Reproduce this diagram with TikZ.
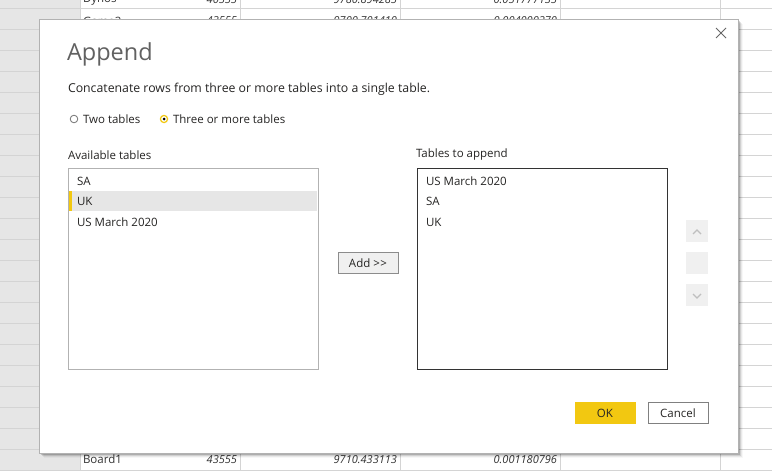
\documentclass[tikz,border=0pt]{standalone}
\usepackage{fontspec}
\setmainfont{Open Sans}
\usetikzlibrary{positioning}
\definecolor{gridline}{HTML}{D4D4D4}
\definecolor{sidegray}{HTML}{E6E6E6}
\definecolor{pbiyellow}{HTML}{F2C811}
\definecolor{btngray}{HTML}{F0F0F0}
\definecolor{txt}{HTML}{252423}
\begin{document}
\begin{tikzpicture}[x=1pt, y=-1pt,
    every node/.style={inner sep=0pt, outer sep=0pt, text=txt, font=\fontsize{11.5}{13}\selectfont},
    lbl/.style={anchor=west},
    cell/.style={anchor=east, font=\fontsize{11}{13}\selectfont\itshape, text=black!80},
    listbox/.style={draw=#1, fill=white, minimum width=250pt, minimum height=201pt, anchor=north west},
    btn/.style={draw=black!45, minimum width=60pt, minimum height=21pt},
    updown/.style={fill=btngray, minimum width=22pt, minimum height=22pt, anchor=north west},
    chev/.style={draw=black!25, line width=1.2pt}]
    %%%%% START %%%%%

    \useasboundingbox (0,0) rectangle (772,471);

    % sheet behind the dialog
    \begin{scope}
        \clip (0,0) rectangle (772,471);
        \fill[white] (0,0) rectangle (772,471);
        \fill[sidegray] (0,0) rectangle (80,471);
        \foreach \y in {8,29,...,470}
            \draw[gridline] (0,\y) -- (772,\y);
        \foreach \x in {80,240,...,720}
            \draw[gridline] (\x,0) -- (\x,471);

        \node[lbl, text=black!80] (r1a) at (83,0) {Dynos};
        \node[cell] (r1b) at (237,0) {40555};
        \node[cell] (r1c) at (397,0) {9780.894285};
        \node[cell] (r1d) at (557,0) {0.051777135};
        \node[lbl, text=black!80] (r2a) at (83,21) {Game2};
        \node[cell] (r2b) at (237,21) {43555};
        \node[cell] (r2c) at (397,21) {9700.701410};
        \node[cell] (r2d) at (557,21) {0.004000270};
        \node[lbl, text=black!80] (r3a) at (83,459.5) {Board1};
        \node[cell] (r3b) at (237,459.5) {43555};
        \node[cell] (r3c) at (397,459.5) {9710.433113};
        \node[cell] (r3d) at (557,459.5) {0.001180796};
    \end{scope}

    % dialog and its shadow
    \foreach \i/\o in {1/0.22,2/0.16,3/0.10,4/0.06,5/0.03}
        \fill[black, opacity=\o] (39+\i,19+\i) rectangle (738+\i,453+\i);
    \node[draw=black!30, fill=white, minimum width=699pt, minimum height=434pt, anchor=north west] (dialog) at (39,19) {};

    \node (close) at (721,33) {};
    \draw[black!60, line width=0.9pt] (716,28) -- (726,38) (716,38) -- (726,28);

    \node[lbl, font=\fontsize{23.5}{27}\selectfont, text=black!62] (title) at (67,54.5) {Append};
    \node[lbl, font=\fontsize{12.3}{14}\selectfont] (intro) at (68,89) {Concatenate rows from three or more tables into a single table.};

    % radio buttons
    \draw[black!55, line width=0.8pt] (74,119) circle (3.8);
    \node[lbl] (two) at (83,119.5) {Two tables};
    \draw[pbiyellow, line width=1.2pt] (164,119) circle (3.6);
    \fill[black] (164,119) circle (1.5);
    \node[lbl] (three) at (173,119.5) {Three or more tables};

    % available tables
    \node[lbl] (availlbl) at (68,155) {Available tables};
    \node[listbox=black!30] (avail) at (68,168) {};
    \fill[sidegray] (69,191) rectangle (317,211);
    \fill[pbiyellow] (69,191) rectangle (72,211);
    \node[lbl] (aSA) at (77,181) {SA};
    \node[lbl] (aUK) at (77,201) {UK};
    \node[lbl] (aUS) at (77,222) {US March 2020};

    \node[btn, fill=btngray] (add) at (368,263) {Add >\kern0.5pt>};

    % tables to append
    \node[lbl] (appendlbl) at (416,155) {Tables to append};
    \node[listbox=black!80] (target) at (417,168) {};
    \node[lbl] (tUS) at (426,181) {US March 2020};
    \node[lbl] (tSA) at (426,201) {SA};
    \node[lbl] (tUK) at (426,222) {UK};

    % move up / down
    \node[updown] (up) at (686,220) {};
    \node[updown] (mid) at (686,252) {};
    \node[updown] (down) at (686,284) {};
    \draw[chev] (693,234) -- (697,230) -- (701,234);
    \draw[chev] (693,294) -- (697,298) -- (701,294);

    \node[btn, fill=pbiyellow, draw=pbiyellow] (ok) at (605,413) {OK};
    \node[btn, fill=white, draw=black!50] (cancel) at (678,413) {Cancel};

    %%%%% END %%%%%
\end{tikzpicture}
\end{document}
